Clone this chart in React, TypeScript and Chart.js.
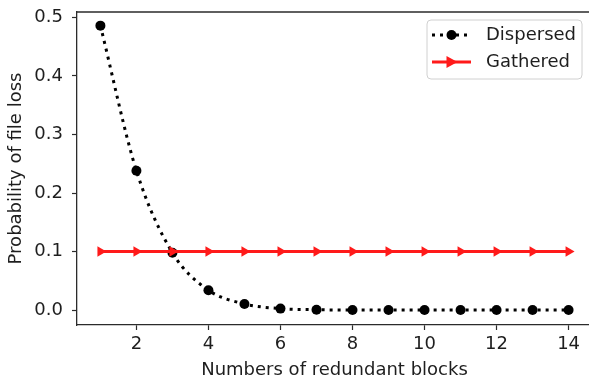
import React, { useEffect, useRef } from "react";
import { Chart, registerables } from "chart.js";

Chart.register(...registerables);

const xValues = [1, 2, 3, 4, 5, 6, 7, 8, 9, 10, 11, 12, 13, 14];
const dispersed = [0.486, 0.238, 0.098, 0.034, 0.0105, 0.0025, 0.0006, 0.0001, 0, 0, 0, 0, 0, 0];
const gathered = [0.1, 0.1, 0.1, 0.1, 0.1, 0.1, 0.1, 0.1, 0.1, 0.1, 0.1, 0.1, 0.1, 0.1];
const xTicks = [2, 4, 6, 8, 10, 12, 14];
const yTicks = [0, 0.1, 0.2, 0.3, 0.4, 0.5];
const seriesNames = ["Dispersed", "Gathered"];
const xTitle = "Numbers of redundant blocks";
const yTitle = "Probability of file loss";

const FONT = "'DejaVu Sans', sans-serif";
const FS = 18;
const TEXT = "#1e1e1e";
const AXIS = "#2b2b2b";

const framePlugin = {
  id: "frame",
  afterDatasetsDraw(chart: any) {
    const { ctx, chartArea } = chart;
    ctx.save();
    ctx.strokeStyle = AXIS;
    ctx.lineWidth = 1.3;
    ctx.beginPath();
    ctx.moveTo(chartArea.left, chartArea.top);
    ctx.lineTo(chartArea.right, chartArea.top);
    ctx.lineTo(chartArea.right, chartArea.bottom);
    ctx.stroke();
    ctx.restore();
  },
};

const legendPlugin = {
  id: "mplLegend",
  afterDraw(chart: any) {
    const { ctx, chartArea } = chart;
    const w = 155, h = 59;
    const x = chartArea.right - 10 - w;
    const y = chartArea.top + 8;
    ctx.save();
    ctx.beginPath();
    const r = 4;
    ctx.moveTo(x + r, y);
    ctx.arcTo(x + w, y, x + w, y + h, r);
    ctx.arcTo(x + w, y + h, x, y + h, r);
    ctx.arcTo(x, y + h, x, y, r);
    ctx.arcTo(x, y, x + w, y, r);
    ctx.closePath();
    ctx.fillStyle = "rgba(255,255,255,0.85)";
    ctx.fill();
    ctx.strokeStyle = "#d0d0d0";
    ctx.lineWidth = 1;
    ctx.stroke();

    const lx0 = x + 5, lx1 = x + 44, mx = (lx0 + lx1) / 2;
    let yy = y + 15;
    ctx.strokeStyle = "#000";
    ctx.lineWidth = 3;
    ctx.setLineDash([3, 5]);
    ctx.beginPath();
    ctx.moveTo(lx0, yy);
    ctx.lineTo(lx1, yy);
    ctx.stroke();
    ctx.setLineDash([]);
    ctx.fillStyle = "#000";
    ctx.beginPath();
    ctx.arc(mx, yy, 5, 0, Math.PI * 2);
    ctx.fill();
    yy = y + 42;
    ctx.strokeStyle = "#ff1a1a";
    ctx.lineWidth = 3;
    ctx.beginPath();
    ctx.moveTo(lx0, yy);
    ctx.lineTo(lx1, yy);
    ctx.stroke();
    ctx.fillStyle = "#ff1a1a";
    ctx.beginPath();
    ctx.moveTo(mx + 6, yy);
    ctx.lineTo(mx - 5, yy - 6);
    ctx.lineTo(mx - 5, yy + 6);
    ctx.closePath();
    ctx.fill();

    ctx.fillStyle = TEXT;
    ctx.font = `${FS}px ${FONT}`;
    ctx.textBaseline = "middle";
    ctx.textAlign = "left";
    ctx.fillText(seriesNames[0], x + 59, y + 15);
    ctx.fillText(seriesNames[1], x + 59, y + 42);
    ctx.restore();
  },
};

export default function App() {
  const ref = useRef<HTMLCanvasElement | null>(null);
  useEffect(() => {
    if (!ref.current) return;
    const chart = new Chart(ref.current, {
      type: "line",
      data: {
        datasets: [
          {
            label: seriesNames[0],
            data: xValues.map((x, i) => ({ x, y: dispersed[i] })),
            borderColor: "#000",
            backgroundColor: "#000",
            borderWidth: 3,
            borderDash: [3, 5],
            cubicInterpolationMode: "monotone",
            pointStyle: "circle",
            pointRadius: 5,
            pointBorderWidth: 0,
            pointBackgroundColor: "#000",
            order: 1,
          },
          {
            label: seriesNames[1],
            data: xValues.map((x, i) => ({ x, y: gathered[i] })),
            borderColor: "#ff1a1a",
            backgroundColor: "#ff1a1a",
            borderWidth: 3,
            pointStyle: "triangle",
            pointRotation: 90,
            pointRadius: 6,
            pointBorderWidth: 0,
            pointBackgroundColor: "#ff1a1a",
            order: 0,
          },
        ],
      },
      options: {
        animation: false,
        responsive: false,
        layout: { padding: { top: 12, left: 0, right: 0, bottom: 0 } },
        plugins: { legend: { display: false }, tooltip: { enabled: false } },
        scales: {
          x: {
            type: "linear",
            min: 0.35,
            max: 14.65,
            afterBuildTicks: (s: any) => {
              s.ticks = xTicks.map((v) => ({ value: v }));
            },
            afterFit: (s: any) => {
              s.height = 57;
              s.paddingLeft = 0;
              s.paddingRight = 0;
            },
            ticks: {
              color: TEXT,
              font: { family: FONT, size: FS },
              padding: 4,
              maxRotation: 0,
              autoSkip: false,
              callback: (v: any) => String(v),
            },
            grid: {
              drawOnChartArea: false,
              drawTicks: true,
              tickLength: 5,
              tickWidth: 1.2,
              tickColor: AXIS,
            },
            border: { display: true, color: AXIS, width: 1.3 },
            title: {
              display: true,
              text: xTitle,
              color: TEXT,
              font: { family: FONT, size: FS },
              padding: { top: 0, bottom: 1 },
            },
          },
          y: {
            type: "linear",
            min: -0.0255,
            max: 0.5093,
            afterBuildTicks: (s: any) => {
              s.ticks = yTicks.map((v) => ({ value: v }));
            },
            afterFit: (s: any) => {
              s.width = 77;
              s.paddingTop = 0;
              s.paddingBottom = 0;
            },
            ticks: {
              color: TEXT,
              font: { family: FONT, size: FS },
              padding: 9,
              autoSkip: false,
              callback: (v: any) => Number(v).toFixed(1),
            },
            grid: {
              drawOnChartArea: false,
              drawTicks: true,
              tickLength: 5,
              tickWidth: 1.2,
              tickColor: AXIS,
            },
            border: { display: true, color: AXIS, width: 1.3 },
            title: {
              display: true,
              text: yTitle,
              color: TEXT,
              font: { family: FONT, size: FS },
              padding: { top: 6, bottom: 0 },
            },
          },
        },
      },
      plugins: [framePlugin, legendPlugin],
    } as any);
    return () => chart.destroy();
  }, []);
  return (
    <div
      style={{
        position: "fixed",
        left: 0,
        top: 0,
        width: 589,
        height: 378,
        overflow: "hidden",
        background: "#fff",
      }}
    >
      <canvas ref={ref} width={598} height={382} style={{ width: 598, height: 382, display: "block" }} />
    </div>
  );
}
